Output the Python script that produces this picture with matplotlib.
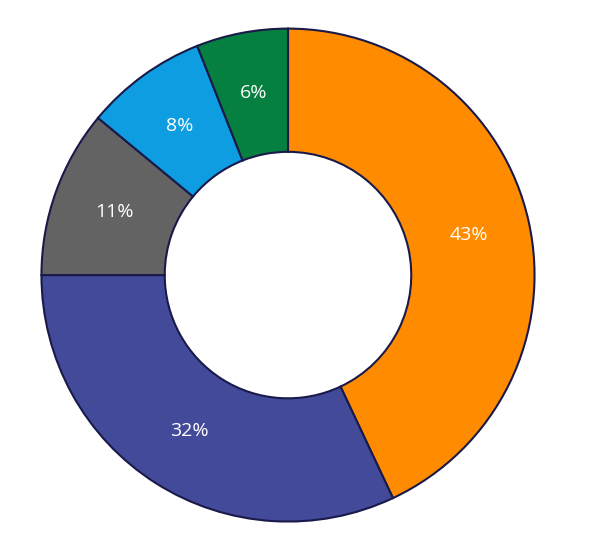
import matplotlib.pyplot as plt

labels = ["A", "B", "C", "D", "E"]
values = [43, 32, 11, 8, 6]
colors = ["#FF8C00", "#434A9A", "#636363", "#0E9DE0", "#058040"]

fig = plt.figure(figsize=(6, 5.4), dpi=100)
ax = fig.add_axes([0.065, 0.0296, 0.83, 0.922])

wedges, texts = ax.pie(
    values,
    colors=colors,
    startangle=90,
    counterclock=False,
    radius=1.0,
    labels=[f"{v}%" for v in values],
    labeldistance=0.75,
    wedgeprops=dict(width=0.5, edgecolor="#1a1a4a", linewidth=1.5),
    textprops=dict(color="white", fontsize=14, family="Open Sans"),
)
for t in texts:
    t.set_horizontalalignment("center")
    t.set_verticalalignment("center")
ax.set_aspect("auto")
ax.set_xlim(-1.01, 1.01)
ax.set_ylim(-1.01, 1.01)

fig.savefig("out.png", dpi=100)
